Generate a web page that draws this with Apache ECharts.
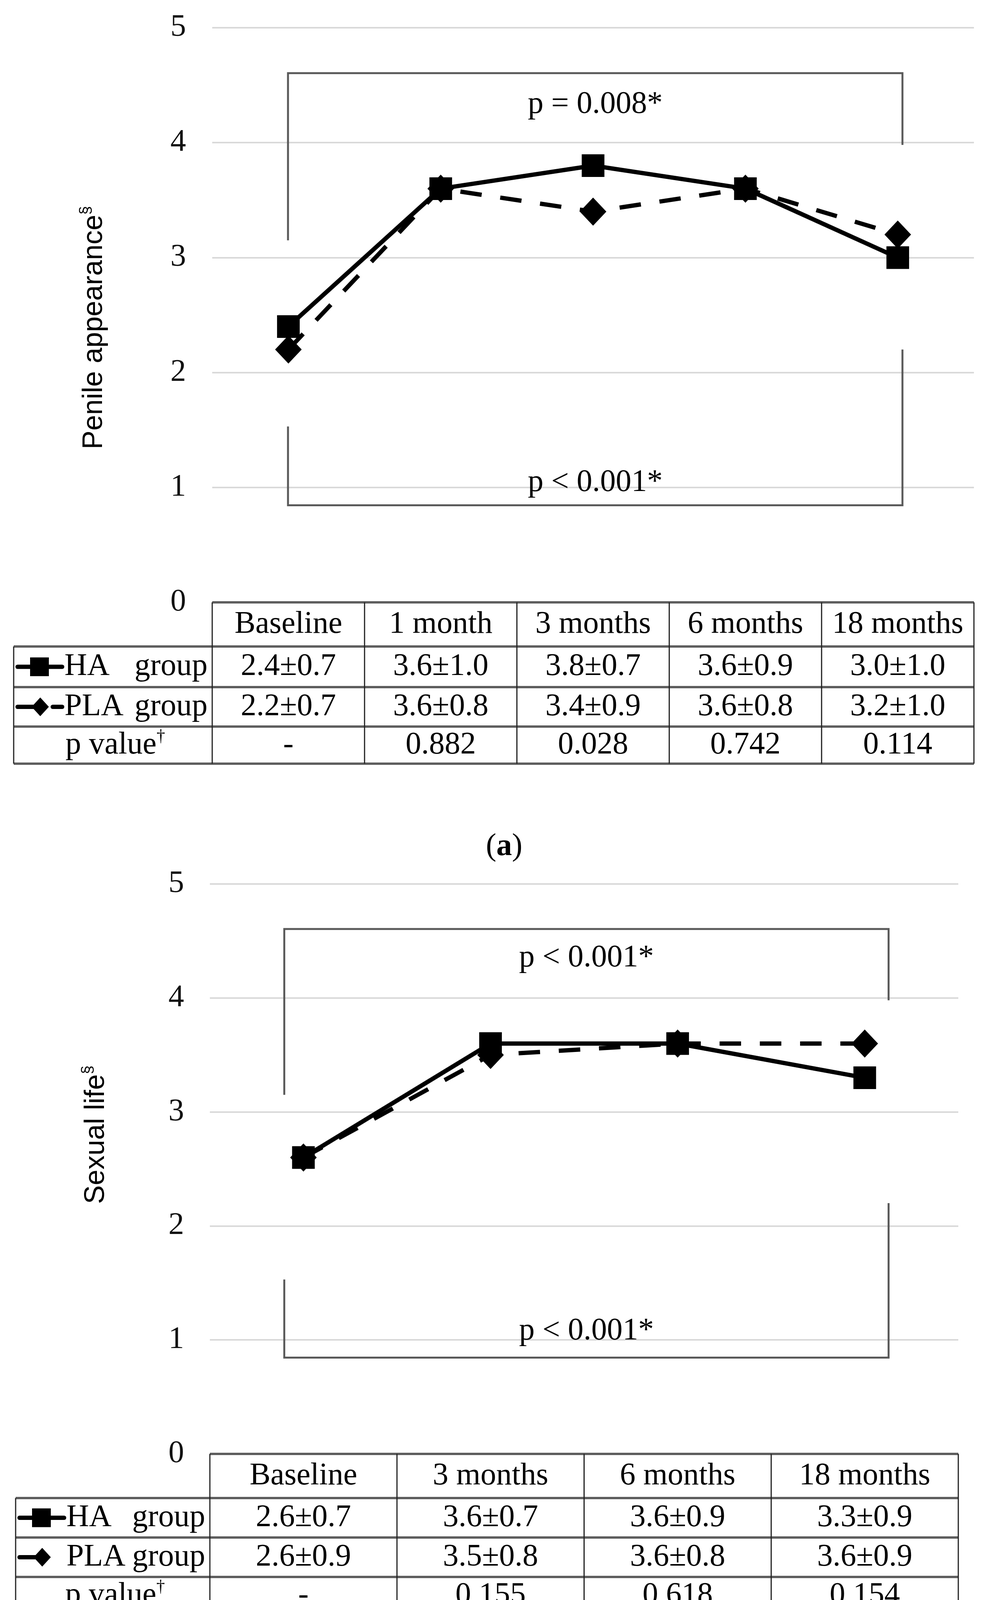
<!DOCTYPE html>
<html><head><meta charset="utf-8">
<script src="https://cdn.jsdelivr.net/npm/echarts@6/dist/echarts.min.js"></script>
<style>html,body{margin:0;padding:0;background:#fff}#c{width:2528px;height:4420px}</style>
</head><body><div id="c"></div>
<script>
// ---------- DATA ----------
const catsA = ['Baseline', '1 month', '3 months', '6 months', '18 months'];
const haMeanA = [2.4, 3.6, 3.8, 3.6, 3.0];
const haSdA = [0.7, 1.0, 0.7, 0.9, 1.0];
const plaMeanA = [2.2, 3.6, 3.4, 3.6, 3.2];
const plaSdA = [0.7, 0.8, 0.9, 0.8, 1.0];
const pValA = ['-', '0.882', '0.028', '0.742', '0.114'];
const overallA = ['p = 0.008*', 'p < 0.001*'];
const titleA = 'Penile appearance';

const catsB = ['Baseline', '3 months', '6 months', '18 months'];
const haMeanB = [2.6, 3.6, 3.6, 3.3];
const haSdB = [0.7, 0.7, 0.9, 0.9];
const plaMeanB = [2.6, 3.5, 3.6, 3.6];
const plaSdB = [0.9, 0.8, 0.8, 0.9];
const pValB = ['-', '0.155', '0.618', '0.154'];
const overallB = ['p < 0.001*', 'p < 0.001*'];
const titleB = 'Sexual life';

const yTicks = [0, 1, 2, 3, 4, 5];
const rowLabels = ['HA', 'PLA', 'p value'];
const captions = ['a', 'b'];

// ---------- CHART ----------
const SERIF = '"Liberation Serif", "Times New Roman", serif';
const SANS = '"Liberation Sans", Arial, sans-serif';
const chart = echarts.init(document.getElementById('c'), null, {renderer: 'canvas', width: 2528, height: 4420});

function yAxisCfg(gi, margin) {
  return {type: 'value', gridIndex: gi, min: yTicks[0], max: yTicks[yTicks.length - 1], interval: 1,
    axisLine: {show: false}, axisTick: {show: false},
    axisLabel: {fontFamily: SERIF, fontSize: 80, color: '#111', margin: margin},
    splitLine: {lineStyle: {color: '#d9d9d9', width: 4}}};
}
function xAxisCfg(gi, cats) {
  return {type: 'category', gridIndex: gi, data: cats, boundaryGap: true,
    axisLine: {show: false}, axisTick: {show: false}, axisLabel: {show: false}, splitLine: {show: false}};
}
function lineSeries(gi, name, data, sym, size, dashed, z) {
  return {type: 'line', name: name, xAxisIndex: gi, yAxisIndex: gi, data: data, z: z,
    symbol: sym, symbolSize: size, showSymbol: true, silent: true,
    itemStyle: {color: '#000'},
    lineStyle: {color: '#000', width: 11, type: dashed ? [55, 48] : 'solid'}};
}

chart.setOption({
  animation: false,
  backgroundColor: '#fff',
  grid: [
    {left: 543, width: 1949, top: 71, height: 1471},
    {left: 537, width: 1915, top: 2263, height: 1459}
  ],
  xAxis: [xAxisCfg(0, catsA), xAxisCfg(1, catsB)],
  yAxis: [yAxisCfg(0, 67), yAxisCfg(1, 66)],
  series: [
    lineSeries(0, 'PLA group', plaMeanA, 'diamond', [68, 72], true, 2),
    lineSeries(0, 'HA group', haMeanA, 'rect', 58, false, 3),
    lineSeries(1, 'PLA group', plaMeanB, 'diamond', [68, 72], true, 2),
    lineSeries(1, 'HA group', haMeanB, 'rect', 58, false, 3)
  ]
});

// ---------- GRAPHIC (brackets, titles, tables) ----------
function P(gi, c, v) { return chart.convertToPixel({gridIndex: gi}, [c, v]); }
function txt(x, y, text, opt) {
  opt = opt || {};
  return {type: 'text', x: x, y: y, rotation: opt.rotation || 0, z: 10, silent: true,
    style: Object.assign({text: text, fontFamily: SERIF, fontSize: 80, fill: '#000',
      align: opt.align || 'center', textAlign: opt.align || 'center',
      verticalAlign: 'middle', textVerticalAlign: 'middle'}, opt.style || {})};
}
function ln(x1, y1, x2, y2, w, color, cap) {
  return {type: 'line', z: 9, silent: true, shape: {x1: x1, y1: y1, x2: x2, y2: y2},
    style: {stroke: color, lineWidth: w, lineCap: cap || 'butt'}};
}
function poly(pts, w, color) {
  return {type: 'polyline', z: 9, silent: true, shape: {points: pts},
    style: {stroke: color, lineWidth: w, fill: null}};
}

function panel(gi, cats, haM, haS, plM, plS, pv, overall, title, cap, L) {
  const els = [];
  const n = cats.length;
  const c0 = P(gi, 0, 0), c1 = P(gi, 1, 0), cl = P(gi, n - 1, 0);
  const bw = c1[0] - c0[0];
  const left = c0[0] - bw / 2, right = left + bw * n;
  const Y = v => P(gi, 0, v)[1];

  // significance brackets
  const xl = c0[0] + L.offL, xr = cl[0] + L.offR;
  els.push(poly([[xl, Y(3.15)], [xl, Y(4.605)], [xr, Y(4.605)], [xr, Y(3.98)]], 5, '#5a5a5a'));
  els.push(poly([[xl, Y(1.53)], [xl, Y(0.845)], [xr, Y(0.845)], [xr, Y(2.2)]], 5, '#5a5a5a'));
  els.push(txt((xl + xr) / 2, Y(L.topTextV), overall[0]));
  els.push(txt((xl + xr) / 2, Y(L.botTextV), overall[1]));

  // y-axis title
  els.push(txt(L.titleX, Y(L.titleV), '{t|' + title + '}{s|§}', {rotation: Math.PI / 2,
    style: {rich: {t: {fontFamily: SANS, fontSize: 72, lineHeight: 80, fill: '#000'},
                   s: {fontFamily: SANS, fontSize: 40, lineHeight: 80, verticalAlign: 'top', fill: '#000', padding: [0, 0, 34, 0]}}}}));

  // table
  const ys = [c0[1]];
  L.rows.forEach(h => ys.push(ys[ys.length - 1] + h));
  const tl = L.tableLeft;
  const HC = '#5e5e5e', VC = '#222';
  els.push(ln(left, ys[0], right, ys[0], 6, HC));
  for (let i = 1; i <= 4; i++) els.push(ln(tl, ys[i], right, ys[i], 6, HC));
  els.push(ln(tl, ys[1], tl, ys[4], 3, VC));
  for (let k = 0; k <= n; k++) els.push(ln(left + k * bw, ys[0], left + k * bw, ys[4], 3, VC));
  const mid = i => (ys[i] + ys[i + 1]) / 2;
  cats.forEach((c, i) => {
    const cx = left + (i + 0.5) * bw;
    els.push(txt(cx, mid(0), c));
    els.push(txt(cx, mid(1), haM[i].toFixed(1) + '±' + haS[i].toFixed(1)));
    els.push(txt(cx, mid(2), plM[i].toFixed(1) + '±' + plS[i].toFixed(1)));
    els.push(txt(cx, mid(3), pv[i]));
  });
  // row labels with legend glyphs
  const ly1 = mid(1), ly2 = mid(2);
  els.push(ln(tl + 10, ly1, tl + 124, ly1, 11, '#000', 'round'));
  els.push({type: 'rect', z: 11, silent: true, shape: {x: tl + 42, y: ly1 - 24, width: 48, height: 48}, style: {fill: '#000'}});
  els.push(txt(tl + 130, ly1, rowLabels[0], {align: 'left'}));
  els.push(txt(left - 12, ly1, 'group', {align: 'right'}));
  const dcx = tl + 68;
  els.push(ln(tl + 10, ly2, dcx, ly2, 11, '#000', 'round'));
  if (L.plaDash) els.push(ln(tl + 100, ly2, tl + 124, ly2, 11, '#000', 'round'));
  els.push({type: 'polygon', z: 11, silent: true,
    shape: {points: [[dcx, ly2 - 24], [dcx + 22, ly2], [dcx, ly2 + 24], [dcx - 22, ly2]]}, style: {fill: '#000'}});
  els.push(txt(tl + 130, ly2, rowLabels[1], {align: 'left'}));
  els.push(txt(left - 12, ly2, 'group', {align: 'right'}));
  els.push(txt((tl + left) / 2 + 6, mid(3), '{t|' + rowLabels[2] + '}{s|†}',
    {style: {rich: {t: {fontFamily: SERIF, fontSize: 80, lineHeight: 86, fill: '#000'},
                    s: {fontFamily: SERIF, fontSize: 44, lineHeight: 86, verticalAlign: 'top', fill: '#000', padding: [0, 0, 30, 0]}}}}));

  // caption
  els.push(txt(L.capX, L.capY, '{t|(}{b|' + cap + '})'.replace('})', '}{t|)}'),
    {style: {rich: {t: {fontFamily: SERIF, fontSize: 80, fill: '#000'},
                    b: {fontFamily: SERIF, fontSize: 80, fontWeight: 'bold', fill: '#000'}}}}));
  return els;
}

const gA = panel(0, catsA, haMeanA, haSdA, plaMeanA, plaSdA, pValA, overallA, titleA, captions[0],
  {offL: -1, offR: 12, topTextV: 4.33, botTextV: 1.04, titleX: 241, titleV: 2.39,
   tableLeft: 35, rows: [113, 104, 101, 95], plaDash: true, capX: 1290, capY: 2168});
const gB = panel(1, catsB, haMeanB, haSdB, plaMeanB, plaSdB, pValB, overallB, titleB, captions[1],
  {offL: -49, offR: 61, topTextV: 4.35, botTextV: 1.076, titleX: 246, titleV: 2.80,
   tableLeft: 40, rows: [113, 101, 101, 95], plaDash: false, capX: 1298, capY: 4340});

chart.setOption({graphic: {elements: gA.concat(gB)}});
</script>
</body></html>
